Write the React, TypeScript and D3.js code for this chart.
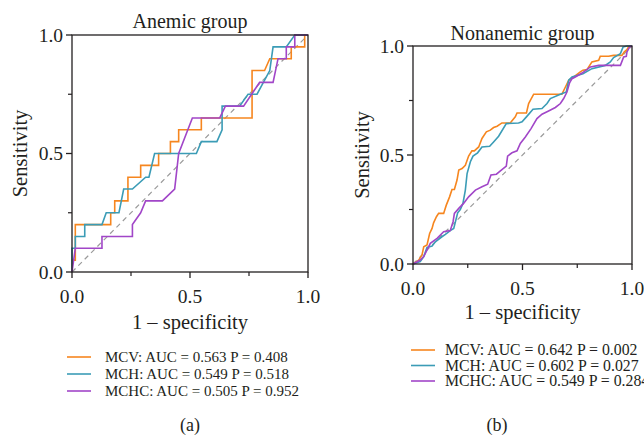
import React from "react";
import * as d3 from "d3";

const MAJOR_TICKS = [0, 0.5, 1];
const MINOR_TICKS = [0.25, 0.75];
const COLORS = ["#f6861f", "#3b9cb6", "#a146c8"];

// [1 - specificity, sensitivity]
const ANEMIC_MCV: [number, number][] = [
  [0, 0], [0, 0.05], [0.014, 0.05], [0.014, 0.2], [0.164, 0.2], [0.164, 0.25], [0.181, 0.25],
  [0.181, 0.3], [0.237, 0.3], [0.237, 0.4], [0.291, 0.4], [0.291, 0.45], [0.367, 0.45],
  [0.367, 0.5], [0.417, 0.5], [0.417, 0.55], [0.452, 0.55], [0.452, 0.6], [0.548, 0.6],
  [0.548, 0.65], [0.763, 0.65], [0.763, 0.85], [0.816, 0.85], [0.838, 0.9], [0.929, 0.9],
  [0.929, 0.95], [0.986, 0.95], [0.986, 1], [1, 1],
];
const ANEMIC_MCH: [number, number][] = [
  [0, 0], [0, 0.1], [0.014, 0.1], [0.014, 0.15], [0.054, 0.15], [0.054, 0.2], [0.127, 0.2],
  [0.145, 0.25], [0.199, 0.25], [0.219, 0.35], [0.256, 0.35], [0.312, 0.4], [0.326, 0.4],
  [0.35, 0.5], [0.527, 0.5], [0.548, 0.55], [0.614, 0.55], [0.636, 0.6], [0.636, 0.7],
  [0.71, 0.7], [0.746, 0.75], [0.784, 0.75], [0.838, 0.85], [0.852, 0.95], [0.908, 0.95],
  [0.944, 1], [1, 1],
];
const ANEMIC_MCHC: [number, number][] = [
  [0, 0], [0.014, 0.1], [0.127, 0.1], [0.127, 0.15], [0.256, 0.15], [0.256, 0.2], [0.291, 0.25],
  [0.312, 0.3], [0.383, 0.3], [0.435, 0.35], [0.452, 0.5], [0.51, 0.65], [0.626, 0.65],
  [0.65, 0.7], [0.727, 0.7], [0.795, 0.8], [0.852, 0.8], [0.873, 0.9], [0.908, 0.9],
  [0.908, 0.95], [0.944, 0.95], [0.944, 1], [1, 1],
];

const NONANEMIC_MCV: [number, number][] = [
  [0, 0], [0.026, 0.018], [0.041, 0.041], [0.049, 0.079], [0.064, 0.087], [0.076, 0.14],
  [0.087, 0.163], [0.094, 0.189], [0.107, 0.217], [0.117, 0.232], [0.14, 0.232], [0.152, 0.27],
  [0.167, 0.308], [0.178, 0.342], [0.189, 0.342], [0.201, 0.385], [0.209, 0.431], [0.224, 0.438],
  [0.239, 0.453], [0.254, 0.495], [0.269, 0.519], [0.28, 0.519], [0.3, 0.537], [0.315, 0.576],
  [0.335, 0.606], [0.353, 0.614], [0.368, 0.626], [0.384, 0.632], [0.406, 0.647], [0.444, 0.647],
  [0.467, 0.675], [0.475, 0.693], [0.518, 0.693], [0.528, 0.736], [0.551, 0.779], [0.68, 0.779],
  [0.696, 0.812], [0.711, 0.843], [0.734, 0.858], [0.764, 0.881], [0.776, 0.889], [0.795, 0.892],
  [0.817, 0.927], [0.848, 0.934], [0.855, 0.953], [0.893, 0.953], [0.916, 0.957], [0.954, 0.957],
  [0.965, 0.973], [0.977, 0.983], [0.985, 0.998], [1, 1],
];
const NONANEMIC_MCH: [number, number][] = [
  [0, 0], [0.033, 0.011], [0.049, 0.034], [0.064, 0.076], [0.087, 0.082], [0.102, 0.102],
  [0.132, 0.125], [0.148, 0.136], [0.17, 0.153], [0.186, 0.163], [0.204, 0.235], [0.216, 0.25],
  [0.228, 0.278], [0.239, 0.339], [0.247, 0.415], [0.262, 0.469], [0.274, 0.495], [0.295, 0.51],
  [0.315, 0.537], [0.35, 0.54], [0.368, 0.56], [0.391, 0.586], [0.426, 0.644], [0.482, 0.647],
  [0.498, 0.652], [0.518, 0.675], [0.548, 0.71], [0.589, 0.713], [0.612, 0.736], [0.627, 0.759],
  [0.673, 0.779], [0.7, 0.789], [0.711, 0.843], [0.726, 0.858], [0.776, 0.873], [0.817, 0.896],
  [0.878, 0.911], [0.901, 0.927], [0.916, 0.947], [0.947, 0.965], [0.959, 0.995], [0.977, 1],
  [1, 1],
];
const NONANEMIC_MCHC: [number, number][] = [
  [0, 0], [0.033, 0.018], [0.049, 0.034], [0.079, 0.095], [0.11, 0.118], [0.14, 0.148],
  [0.17, 0.153], [0.183, 0.194], [0.189, 0.232], [0.209, 0.255], [0.231, 0.278], [0.254, 0.308],
  [0.285, 0.339], [0.315, 0.354], [0.341, 0.366], [0.356, 0.408], [0.381, 0.412], [0.399, 0.427],
  [0.426, 0.449], [0.432, 0.495], [0.452, 0.51], [0.475, 0.519], [0.49, 0.553], [0.513, 0.583],
  [0.539, 0.621], [0.566, 0.667], [0.589, 0.687], [0.619, 0.702], [0.65, 0.718], [0.673, 0.736],
  [0.688, 0.759], [0.703, 0.789], [0.715, 0.831], [0.726, 0.85], [0.741, 0.858], [0.772, 0.876],
  [0.81, 0.904], [0.848, 0.911], [0.947, 0.911], [0.962, 0.95], [0.974, 0.953], [0.977, 0.973],
  [0.989, 0.995], [1, 1],
];

const ANEMIC_LEGEND = [
  "MCV: AUC = 0.563 P = 0.408",
  "MCH: AUC = 0.549 P = 0.518",
  "MCHC: AUC = 0.505 P = 0.952",
];
const NONANEMIC_LEGEND = [
  "MCV: AUC = 0.642 P = 0.002",
  "MCH: AUC = 0.602 P = 0.027",
  "MCHC: AUC = 0.549 P = 0.284",
];

const FONT = "'Liberation Serif', 'Times New Roman', serif";
const INK = "#231f20";

type PanelProps = {
  title: string;
  curves: [number, number][][];
  legend: string[];
  left: number;
  right: number;
  top: number;
  bottom: number;
  titleY: number;
  xLabelY: number;
  yLabelX: number;
  legendX: number;
  legendTextX: number;
  legendY: number;
  legendGap: number;
  legendSize: number;
  tag: string;
  tagX: number;
};

function Panel(p: PanelProps) {
  const x = d3.scaleLinear().domain([0, 1]).range([p.left, p.right]);
  const y = d3.scaleLinear().domain([0, 1]).range([p.bottom, p.top]);
  const line = d3
    .line<[number, number]>()
    .x((d) => x(d[0]))
    .y((d) => y(d[1]));
  const cx = (p.left + p.right) / 2;
  const cy = (p.top + p.bottom) / 2;

  return (
    <g fontFamily={FONT} fill={INK}>
      <text x={cx} y={p.titleY} textAnchor="middle" fontSize={20}>
        {p.title}
      </text>
      <line
        x1={x(0)} y1={y(0)} x2={x(1)} y2={y(1)}
        stroke="#9a9a9a" strokeWidth={1.2} strokeDasharray="5,4"
      />
      {p.curves.map((c, i) => (
        <path key={i} d={line(c) || ""} fill="none" stroke={COLORS[i]} strokeWidth={1.6} />
      ))}
      <rect
        x={p.left} y={p.top} width={p.right - p.left} height={p.bottom - p.top}
        fill="none" stroke={INK} strokeWidth={1.3}
      />
      {MAJOR_TICKS.map((t) => (
        <g key={"x" + t}>
          <line x1={x(t)} x2={x(t)} y1={p.bottom} y2={p.bottom + 6} stroke={INK} strokeWidth={1.3} />
          <text x={x(t)} y={p.bottom + 31} textAnchor="middle" fontSize={19.5}>
            {d3.format(".1f")(t)}
          </text>
          <line x1={p.left - 6} x2={p.left} y1={y(t)} y2={y(t)} stroke={INK} strokeWidth={1.3} />
          <text x={p.left - 9} y={y(t)} dy="0.34em" textAnchor="end" fontSize={19.5}>
            {d3.format(".1f")(t)}
          </text>
        </g>
      ))}
      {MINOR_TICKS.map((t) => (
        <g key={"m" + t}>
          <line x1={x(t)} x2={x(t)} y1={p.bottom} y2={p.bottom + 4} stroke={INK} strokeWidth={1.2} />
          <line x1={p.left - 4} x2={p.left} y1={y(t)} y2={y(t)} stroke={INK} strokeWidth={1.2} />
        </g>
      ))}
      <text x={cx} y={p.xLabelY} textAnchor="middle" fontSize={20.5}>
        1 – specificity
      </text>
      <text
        transform={`translate(${p.yLabelX},${cy}) rotate(-90)`}
        textAnchor="middle" fontSize={20.5}
      >
        Sensitivity
      </text>
      {p.legend.map((s, i) => {
        const ly = p.legendY + i * p.legendGap;
        return (
          <g key={s}>
            <line x1={p.legendX} x2={p.legendX + 24} y1={ly} y2={ly} stroke={COLORS[i]} strokeWidth={1.6} />
            <text x={p.legendTextX} y={ly} dy="0.34em" fontSize={p.legendSize}>
              {s}
            </text>
          </g>
        );
      })}
      <text x={p.tagX} y={431} textAnchor="middle" fontSize={18}>
        {p.tag}
      </text>
    </g>
  );
}

export default function App() {
  return (
    <div style={{ position: "absolute", left: 0, top: 0 }}>
      <svg width={644} height={436} style={{ display: "block", background: "#fff" }}>
        <Panel
          title="Anemic group"
          curves={[ANEMIC_MCV, ANEMIC_MCH, ANEMIC_MCHC]}
          legend={ANEMIC_LEGEND}
          left={72} right={308} top={35} bottom={272}
          titleY={28} xLabelY={329} yLabelX={27}
          legendX={67} legendTextX={105} legendY={357} legendGap={17}
          legendSize={15}
          tag="(a)" tagX={190}
        />
        <Panel
          title="Nonanemic group"
          curves={[NONANEMIC_MCV, NONANEMIC_MCH, NONANEMIC_MCHC]}
          legend={NONANEMIC_LEGEND}
          left={413} right={632} top={46} bottom={264}
          titleY={40} xLabelY={319} yLabelX={369}
          legendX={411} legendTextX={445} legendY={350} legendGap={15.5}
          legendSize={15.8}
          tag="(b)" tagX={497}
        />
      </svg>
    </div>
  );
}
